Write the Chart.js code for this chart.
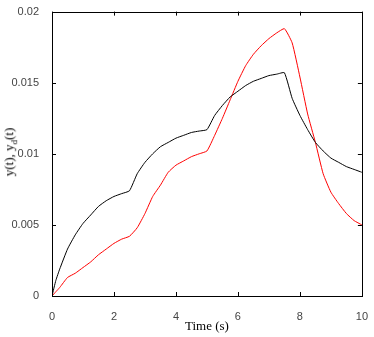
<!DOCTYPE html>
<html>
<head>
<meta charset="utf-8">
<script src="https://cdn.jsdelivr.net/npm/chart.js@4/dist/chart.umd.min.js"></script>
<style>
    html, body { margin: 0; padding: 0; background: #fff; }
    #wrap { position: relative; width: 374px; height: 337px; }
    #ylabel {
        position: absolute;
        left: 10px;
        top: 152px;
        transform: translate(-50%, -50%) rotate(-90deg);
        font-family: "Liberation Serif", "DejaVu Serif", serif;
        font-size: 13px;
        color: #000;
        white-space: nowrap;
    }
    #ylabel sub { font-size: 9px; }
</style>
</head>
<body>
<div id="wrap">
    <canvas id="response-chart" width="374" height="337"></canvas>
    <div id="ylabel">y(t), y<sub>d</sub>(t)</div>
</div>
<script>
// sample times (s)
const times = [0, 0.125, 0.25, 0.5, 0.75, 1, 1.25, 1.5, 1.75, 2, 2.25, 2.5, 2.75, 3, 3.25, 3.5, 3.75, 4, 4.25, 4.5, 4.75,
    5, 5.25, 5.5, 5.75, 6, 6.25, 6.5, 6.75, 7, 7.25, 7.5, 7.75, 8, 8.25, 8.5, 8.75, 9, 9.25, 9.5, 9.75, 10];

// black curve, y(t)
const yValues = [0, 0.0011, 0.0019, 0.0033, 0.0043, 0.0051, 0.0057, 0.0063, 0.0067, 0.0070, 0.0072, 0.0074,
    0.0086, 0.0094, 0.0100, 0.0105, 0.0108, 0.0111, 0.0113, 0.0115, 0.0116,
    0.0117, 0.0127, 0.0134, 0.0140, 0.0144, 0.0148, 0.0151, 0.0153, 0.0155, 0.0156,
    0.0157, 0.0139, 0.0127, 0.0117, 0.0108, 0.0102, 0.0097, 0.0094, 0.0091, 0.0089, 0.0087];

// red curve, y_d(t)
const ydValues = [0, 0.0003, 0.0006, 0.0013, 0.0016, 0.0020, 0.0024, 0.0029, 0.0033, 0.0037, 0.0040, 0.0042,
    0.0048, 0.0058, 0.0070, 0.0078, 0.0087, 0.0092, 0.0095, 0.0098, 0.0100,
    0.0102, 0.0113, 0.0125, 0.0138, 0.0151, 0.0162, 0.0170, 0.0176, 0.0181, 0.0185,
    0.0188, 0.0178, 0.0154, 0.0128, 0.0108, 0.0086, 0.0073, 0.0065, 0.0058, 0.0053, 0.0050];

const xTicks = [0, 2, 4, 6, 8, 10];
const yTicks = [0, 0.005, 0.01, 0.015, 0.02];

const toPoints = (vals) => times.map((t, i) => ({ x: t, y: vals[i] }));

// Draws the box round the plot and the inward tick marks on all four sides
const frameTicks = {
    id: 'frameTicks',
    afterDraw(chart) {
        const { ctx, chartArea: a, scales } = chart;
        const len = 4;
        ctx.save();
        ctx.strokeStyle = '#000';
        ctx.lineWidth = 1;
        ctx.strokeRect(Math.round(a.left) + 0.5, Math.round(a.top) + 0.5,
            Math.round(a.right - a.left), Math.round(a.bottom - a.top));
        ctx.beginPath();
        xTicks.forEach(v => {
            const px = Math.round(scales.x.getPixelForValue(v)) + 0.5;
            ctx.moveTo(px, a.bottom); ctx.lineTo(px, a.bottom - len);
            ctx.moveTo(px, a.top); ctx.lineTo(px, a.top + len);
        });
        yTicks.forEach(v => {
            const py = Math.round(scales.y.getPixelForValue(v)) + 0.5;
            ctx.moveTo(a.left, py); ctx.lineTo(a.left + len, py);
            ctx.moveTo(a.right, py); ctx.lineTo(a.right - len, py);
        });
        ctx.stroke();
        ctx.restore();
    }
};

const tickFont = { family: '"Liberation Sans", Arial, sans-serif', size: 11 };

new Chart(document.getElementById('response-chart'), {
    type: 'line',
    data: {
        datasets: [{
            label: 'y(t)',
            data: toPoints(yValues),
            borderColor: '#000000',
            borderWidth: 1,
            pointRadius: 0,
            tension: 0.15
        }, {
            label: 'y_d(t)',
            data: toPoints(ydValues),
            borderColor: '#ff0000',
            borderWidth: 1,
            pointRadius: 0,
            tension: 0.15
        }]
    },
    options: {
        responsive: false,
        animation: false,
        layout: { padding: { top: 10, right: 12, left: 0, bottom: 0 } },
        plugins: {
            legend: { display: false },
            tooltip: { enabled: false }
        },
        scales: {
            x: {
                type: 'linear',
                min: 0,
                max: 10,
                afterFit: (scale) => { scale.height = 41; },
                afterBuildTicks: (scale) => { scale.ticks = xTicks.map(v => ({ value: v })); },
                grid: { display: false },
                border: { display: false },
                ticks: { font: tickFont, color: '#444', padding: 6, maxRotation: 0 },
                title: {
                    display: true,
                    text: 'Time (s)',
                    font: { family: '"Liberation Serif", "DejaVu Serif", serif', size: 13 },
                    color: '#000',
                    padding: { top: 4, bottom: 3 }
                }
            },
            y: {
                min: 0,
                max: 0.02,
                afterFit: (scale) => { scale.width = 52; },
                afterBuildTicks: (scale) => { scale.ticks = yTicks.map(v => ({ value: v })); },
                grid: { display: false },
                border: { display: false },
                ticks: {
                    font: tickFont,
                    color: '#444',
                    padding: 5,
                    callback: (value) => String(Number(value.toFixed(3)))
                }
            }
        }
    },
    plugins: [frameTicks]
});
</script>
</body>
</html>
